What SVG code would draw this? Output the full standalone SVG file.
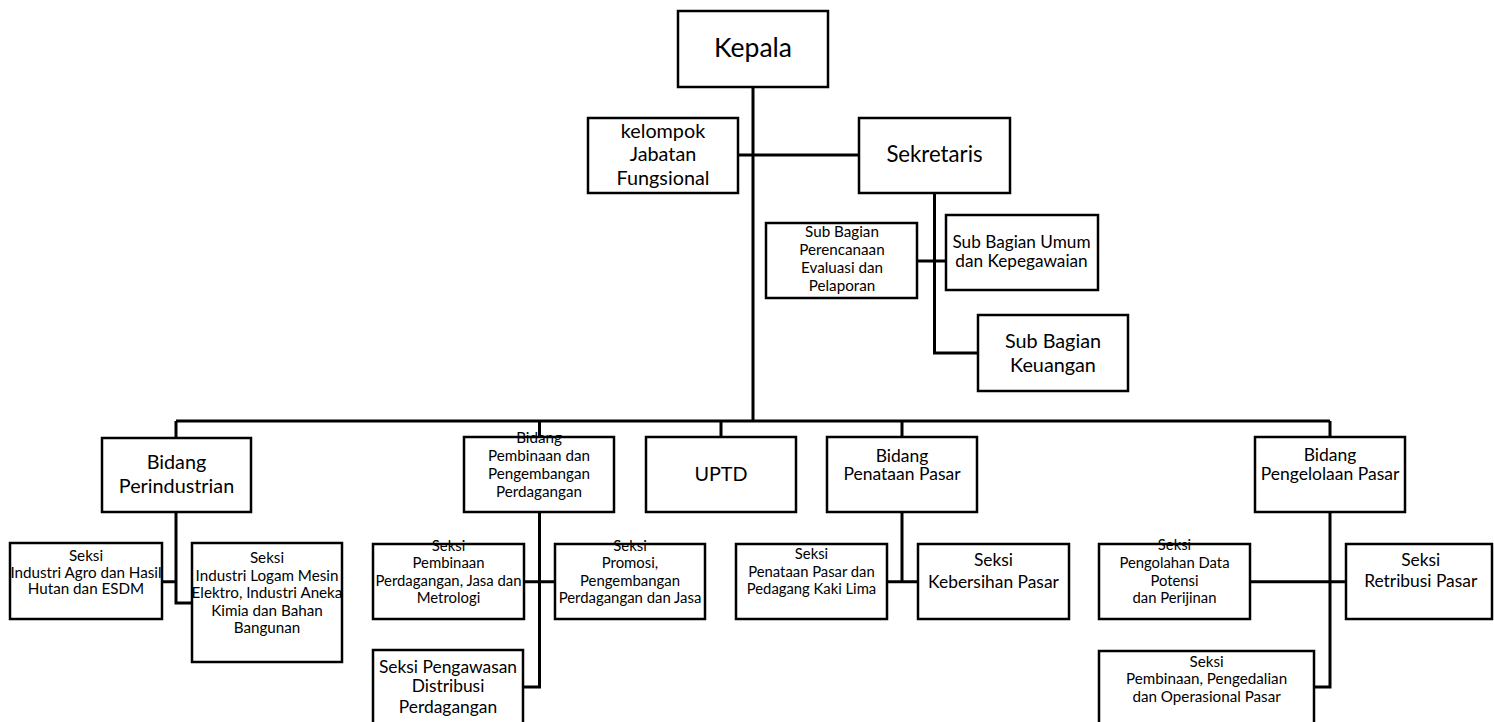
<svg xmlns="http://www.w3.org/2000/svg" width="1494" height="722" viewBox="0 0 1494 722">
<style>
.box{fill:#fff;stroke:#000;stroke-width:2.5}
.ln{fill:none;stroke:#000;stroke-width:3}
text{font-family:Lato,"Liberation Sans",sans-serif;text-anchor:middle;fill:#000}
</style>
<rect width="1494" height="722" fill="#fff"/>
<g id="connectors">
<path class="ln" d="M753 87V421M738 155H859"/>
<path class="ln" d="M934.5 193V353H978M917 261H946"/>
<path class="ln" d="M176 421H1330M176 421V438M539.5 421V437M721 421V437M902 421V437M1330 421V437"/>
<path class="ln" d="M176 512V603H192M162 581.7H176"/>
<path class="ln" d="M539.5 512V687H523M524 581.7H555"/>
<path class="ln" d="M902 512V581.7M887 581.7H918"/>
<path class="ln" d="M1330 512V687H1314M1250 581.7H1346"/>
</g>
<g id="kepala"><rect class="box" x="678" y="11" width="150" height="76"/><text x="753" y="57" font-size="26.5">Kepala</text></g>
<g id="kelompok"><rect class="box" x="588" y="118" width="150" height="75"/><text font-size="19.8"><tspan x="663" y="137.5">kelompok</tspan><tspan x="663" y="161">Jabatan</tspan><tspan x="663" y="184.5">Fungsional</tspan></text></g>
<g id="sekretaris"><rect class="box" x="859" y="118" width="151" height="75"/><text x="934.5" y="162.3" font-size="22.2">Sekretaris</text></g>
<g id="perencanaan"><rect class="box" x="766" y="223" width="151" height="75"/><text font-size="15.2"><tspan x="842" y="236.7">Sub Bagian</tspan><tspan x="842" y="254.7">Perencanaan</tspan><tspan x="842" y="272.7">Evaluasi dan</tspan><tspan x="842" y="290.7">Pelaporan</tspan></text></g>
<g id="umum"><rect class="box" x="946" y="215" width="152" height="75"/><text font-size="17.2"><tspan x="1021.5" y="248.3">Sub Bagian Umum</tspan><tspan x="1021.5" y="266.7">dan Kepegawaian</tspan></text></g>
<g id="keuangan"><rect class="box" x="978" y="315" width="150" height="76"/><text font-size="19.8"><tspan x="1053" y="348.3">Sub Bagian</tspan><tspan x="1053" y="371.7">Keuangan</tspan></text></g>
<g id="bidang-perindustrian"><rect class="box" x="102" y="438" width="149" height="74"/><text font-size="19.8"><tspan x="176.5" y="469.3">Bidang</tspan><tspan x="176.5" y="492.7">Perindustrian</tspan></text></g>
<g id="bidang-pembinaan"><rect class="box" x="464" y="437" width="150" height="75"/><text font-size="15.2"><tspan x="539" y="443.3">Bidang</tspan><tspan x="539" y="461.3">Pembinaan dan</tspan><tspan x="539" y="479.3">Pengembangan</tspan><tspan x="539" y="497">Perdagangan</tspan></text></g>
<g id="uptd"><rect class="box" x="646" y="437" width="150" height="75"/><text x="721" y="480.7" font-size="19.8">UPTD</text></g>
<g id="bidang-penataan"><rect class="box" x="827" y="437" width="150" height="75"/><text font-size="17.5"><tspan x="902" y="461.7">Bidang</tspan><tspan x="902" y="480">Penataan Pasar</tspan></text></g>
<g id="bidang-pengelolaan"><rect class="box" x="1255" y="437" width="150" height="75"/><text font-size="17.5"><tspan x="1330" y="460.5">Bidang</tspan><tspan x="1330" y="479.5">Pengelolaan Pasar</tspan></text></g>
<g id="seksi-agro"><rect class="box" x="10" y="543" width="152" height="76"/><text font-size="15.2"><tspan x="86" y="561">Seksi</tspan><tspan x="86" y="577.5">Industri Agro dan Hasil</tspan><tspan x="86" y="594">Hutan dan ESDM</tspan></text></g>
<g id="seksi-logam"><rect class="box" x="192" y="543" width="150" height="119"/><text font-size="15.2"><tspan x="267" y="563.3">Seksi</tspan><tspan x="267" y="580.8">Industri Logam Mesin</tspan><tspan x="267" y="598.3">Elektro, Industri Aneka</tspan><tspan x="267" y="615.8">Kimia dan Bahan</tspan><tspan x="267" y="633.3">Bangunan</tspan></text></g>
<g id="seksi-pembinaan-perdagangan"><rect class="box" x="373" y="544" width="151" height="75"/><text font-size="14.9"><tspan x="448.5" y="550.7">Seksi</tspan><tspan x="448.5" y="568.3">Pembinaan</tspan><tspan x="448.5" y="585.7">Perdagangan, Jasa dan</tspan><tspan x="448.5" y="603.3">Metrologi</tspan></text></g>
<g id="seksi-promosi"><rect class="box" x="555" y="544" width="150" height="75"/><text font-size="14.9"><tspan x="630" y="550.7">Seksi</tspan><tspan x="630" y="568.3">Promosi,</tspan><tspan x="630" y="585.7">Pengembangan</tspan><tspan x="630" y="603.3">Perdagangan dan Jasa</tspan></text></g>
<g id="seksi-pengawasan"><rect class="box" x="373" y="650" width="150" height="80"/><text font-size="17.4"><tspan x="448" y="672.5">Seksi Pengawasan</tspan><tspan x="448" y="692.3">Distribusi</tspan><tspan x="448" y="712.5">Perdagangan</tspan></text></g>
<g id="seksi-penataan"><rect class="box" x="736" y="544" width="151" height="75"/><text font-size="14.8"><tspan x="811.5" y="559.3">Seksi</tspan><tspan x="811.5" y="576.7">Penataan Pasar dan</tspan><tspan x="811.5" y="594">Pedagang Kaki Lima</tspan></text></g>
<g id="seksi-kebersihan"><rect class="box" x="918" y="544" width="151" height="75"/><text font-size="17.4"><tspan x="993.5" y="565.7">Seksi</tspan><tspan x="993.5" y="587.5">Kebersihan Pasar</tspan></text></g>
<g id="seksi-pengolahan"><rect class="box" x="1099" y="544" width="151" height="75"/><text font-size="14.8"><tspan x="1174.5" y="550">Seksi</tspan><tspan x="1174.5" y="568.3">Pengolahan Data</tspan><tspan x="1174.5" y="585.7">Potensi</tspan><tspan x="1174.5" y="603.3">dan Perijinan</tspan></text></g>
<g id="seksi-retribusi"><rect class="box" x="1346" y="544" width="146" height="75"/><text font-size="17.4"><tspan x="1420.7" y="565.7">Seksi</tspan><tspan x="1420.7" y="586.7">Retribusi Pasar</tspan></text></g>
<g id="seksi-pembinaan-pasar"><rect class="box" x="1099" y="651" width="215" height="80"/><text font-size="15.2"><tspan x="1206.6" y="666.5">Seksi</tspan><tspan x="1206.6" y="684">Pembinaan, Pengedalian</tspan><tspan x="1206.6" y="701.5">dan Operasional Pasar</tspan></text></g>
</svg>
